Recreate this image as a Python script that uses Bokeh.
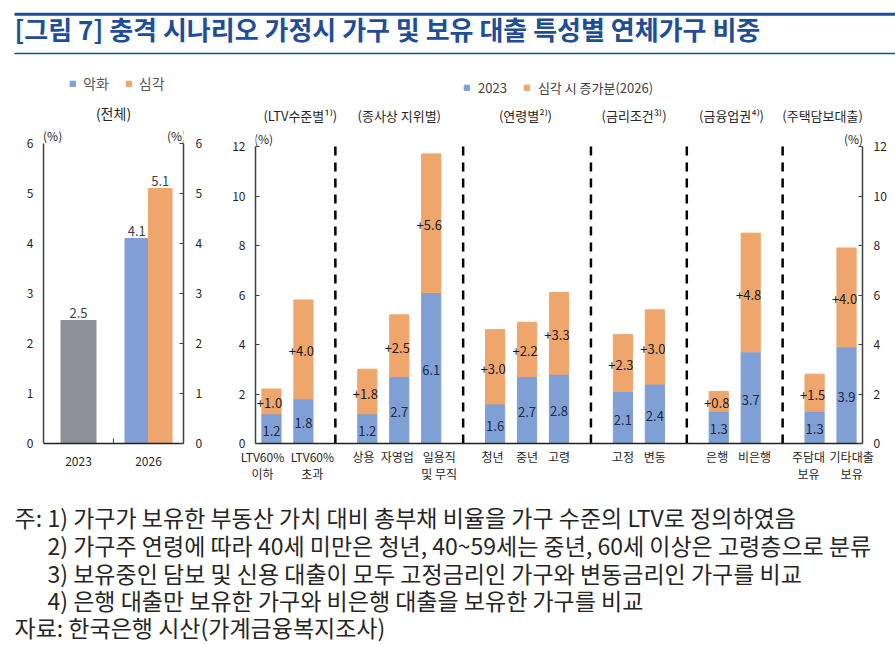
from bokeh.plotting import figure
from bokeh.layouts import column, row
from bokeh.models import (ColumnDataSource, FixedTicker, Legend, LegendItem,
                          Range1d, LinearAxis, BoxAnnotation)
from bokeh.core.properties import value
from bokeh.embed import file_html
from bokeh.resources import INLINE

FONT = "Noto Sans CJK KR"
BLUE = "#809fd4"
ORANGE = "#eea66c"
GRAY = "#8f8f99"
TITLE_BLUE = "#1f4e96"
AXIS = "#404040"
TEXT = "#262626"

# ---------------- data ----------------
title_text = "[그림 7] 충격 시나리오 가정시 가구 및 보유 대출 특성별 연체가구 비중"

overall_title = "(전체)"
overall_years = ["2023", "2026"]
overall_2023 = [2.46]
overall_2026_worse = [4.1]
overall_2026_severe = [5.1]
overall_legend = ["악화", "심각"]
overall_ticks = [0, 1, 2, 3, 4, 5, 6]

group_titles = ["(LTV수준별¹⁾)", "(종사상 지위별)", "(연령별²⁾)",
                "(금리조건³⁾)", "(금융업권⁴⁾)", "(주택담보대출)"]
group_sizes = [2, 3, 3, 2, 2, 2]
categories = ["LTV60%\n이하", "LTV60%\n초과",
              "상용", "자영업", "일용직\n및 무직",
              "청년", "중년", "고령",
              "고정", "변동",
              "은행", "비은행",
              "주담대\n보유", "기타대출\n보유"]
base_2023 = [1.2, 1.8, 1.2, 2.7, 6.1, 1.6, 2.7, 2.8, 2.1, 2.4, 1.3, 3.7, 1.3, 3.9]
inc_2026 = [1.0, 4.0, 1.8, 2.5, 5.6, 3.0, 2.2, 3.3, 2.3, 3.0, 0.8, 4.8, 1.5, 4.0]
detail_legend = ["2023", "심각 시 증가분(2026)"]
detail_ticks = [0, 2, 4, 6, 8, 10, 12]

notes_prefix = "주:"
notes = ["1) 가구가 보유한 부동산 가치 대비 총부채 비율을 가구 수준의 LTV로 정의하였음",
         "2) 가구주 연령에 따라 40세 미만은 청년, 40~59세는 중년, 60세 이상은 고령층으로 분류",
         "3) 보유중인 담보 및 신용 대출이 모두 고정금리인 가구와 변동금리인 가구를 비교",
         "4) 은행 대출만 보유한 가구와 비은행 대출을 보유한 가구를 비교"]
source_note = "자료: 한국은행 시산(가계금융복지조사)"

# ---------------- layout constants ----------------
W = 895
TH = 60
LH = 425
NH = 158
label_shift = [-0.28, 0.28, -0.12, -0.06, 0.25, -0.08, 0, 0, 0, 0, -0.05, 0.12, -0.19, 0.16]
title_shift = [0.4, 0.0, -0.05, -0.15, -0.1, -0.25]


def bare(fig):
    fig.grid.visible = False
    return fig


def style_axis(ax, size="12px"):
    ax.major_label_text_font = FONT
    ax.major_label_text_font_size = size
    ax.major_label_text_color = TEXT
    ax.axis_line_color = AXIS
    ax.axis_line_width = 1.5
    ax.major_tick_line_color = AXIS
    ax.minor_tick_line_color = AXIS
    ax.major_tick_out = 0
    ax.minor_tick_out = 0
    ax.minor_tick_in = 0


# ---------------- title (y measured upward from the bottom of this strip) ----------------
tf = figure(width=W, height=TH, x_range=Range1d(0, W), y_range=Range1d(0, TH),
            x_axis_location=None, y_axis_location=None, toolbar_location=None,
            output_backend="svg", min_border=0, outline_line_color=None)
bare(tf)
tf.add_layout(BoxAnnotation(left=14, right=W, bottom=44.8, top=47.8,
                            fill_color=TITLE_BLUE, fill_alpha=1.0, line_color=None))
tf.add_layout(BoxAnnotation(left=14, right=W, bottom=6.2, top=7.8,
                            fill_color=TITLE_BLUE, fill_alpha=1.0, line_color=None))
tf.text(x=[14], y=[TH - 28], text=[title_text], text_font=value(FONT),
        text_font_size="26px", text_font_style="bold", text_color=TITLE_BLUE,
        text_baseline="middle", text_align="left")

# ---------------- left panel (overall) ----------------
frame_h = LH - 10 - 42
lp = figure(width=215, height=LH, x_range=Range1d(0, 2),
            y_range=Range1d(0, frame_h / 50.0), toolbar_location=None,
            output_backend="svg", min_border_left=43, min_border_right=32,
            min_border_top=10, min_border_bottom=42, outline_line_color=None)
bare(lp)
ly = lp.yaxis[0]
ly.ticker = FixedTicker(ticks=overall_ticks)
ly.bounds = (0, 6)
style_axis(ly)
ly.major_tick_in = 0
ly.major_label_standoff = 10
lr = LinearAxis(ticker=FixedTicker(ticks=overall_ticks), bounds=(0, 6))
style_axis(lr)
lr.major_tick_in = 4
lr.major_label_standoff = 12
lp.add_layout(lr, "right")
lx = lp.xaxis[0]
lx.ticker = FixedTicker(ticks=[i + 0.5 for i in range(len(overall_years))],
                        minor_ticks=[1.0])
lx.major_label_overrides = {i + 0.5: y for i, y in enumerate(overall_years)}
style_axis(lx)
lx.major_tick_in = 0
lx.minor_tick_in = 5
lx.major_label_standoff = 13
lx.axis_line_color = "#222222"

x23 = overall_years.index("2023") + 0.5
x26 = overall_years.index("2026") + 0.5
lp.vbar(x=[x23], top=overall_2023, width=0.5, color=GRAY)
r_worse = lp.vbar(x=[x26 - 0.168], top=overall_2026_worse, width=0.336, color=BLUE)
r_sev = lp.vbar(x=[x26 + 0.168], top=overall_2026_severe, width=0.336, color=ORANGE)
lab_x = [x23, x26 - 0.168, x26 + 0.168]
lab_v = overall_2023 + overall_2026_worse + overall_2026_severe
lp.text(x=lab_x, y=lab_v, text=[f"{v:.1f}" for v in lab_v],
        text_font=value(FONT), text_font_size="13px", text_color="#404040",
        text_align="center", text_baseline="bottom", y_offset=-3)
lp.text(x=[1.0], y=[6.62], text=[overall_title], text_font=value(FONT),
        text_font_size="14px", text_color=TEXT, text_align="center",
        text_baseline="middle")
lp.text(x=[0.13, 1.9], y=[6.16, 6.16], text=["(%)", "(%)"], text_font=value(FONT),
        text_font_size="12px", text_color=TEXT, text_align="center",
        text_baseline="middle")
lleg = Legend(items=[LegendItem(label=overall_legend[0], renderers=[r_worse]),
                     LegendItem(label=overall_legend[1], renderers=[r_sev])],
              orientation="horizontal", location=(26, 350),
              glyph_width=7, glyph_height=7, label_height=14, label_width=10,
              label_standoff=7, spacing=16, padding=0, margin=0,
              border_line_color=None, background_fill_alpha=0,
              label_text_font=FONT, label_text_font_size="14px",
              label_text_color="#595959")
lp.add_layout(lleg)

# ---------------- right panel (by characteristic) ----------------
xs, divs, centers = [], [], []
pos = 0
for gi, n in enumerate(group_sizes):
    grp = []
    for _ in range(n):
        xs.append(pos)
        grp.append(pos)
        pos += 1
    centers.append(sum(grp) / len(grp))
    if gi < len(group_sizes) - 1:
        divs.append(pos)
        pos += 1

rp = figure(width=W - 215, height=LH, x_range=Range1d(-0.5, xs[-1] + 0.5),
            y_range=Range1d(0, frame_h / 24.75), toolbar_location=None,
            output_backend="svg", min_border_left=40, min_border_right=33,
            min_border_top=10, min_border_bottom=42, outline_line_color=None)
bare(rp)
ry = rp.yaxis[0]
ry.ticker = FixedTicker(ticks=detail_ticks)
ry.bounds = (0, 12)
style_axis(ry)
ry.major_tick_in = 4
ry.major_label_standoff = 10
rr = LinearAxis(ticker=FixedTicker(ticks=detail_ticks), bounds=(0, 12))
style_axis(rr)
rr.major_tick_in = 4
rr.major_label_standoff = 11
rp.add_layout(rr, "right")

label_x = [x + s for x, s in zip(xs, label_shift)]
first_lines = [c.split("\n")[0] for c in categories]
second = [(lx_, c.split("\n")[1]) for lx_, c in zip(label_x, categories) if "\n" in c]
rx = rp.xaxis[0]
rx.ticker = FixedTicker(ticks=label_x)
rx.major_label_overrides = {x: c for x, c in zip(label_x, first_lines)}
style_axis(rx)
rx.major_tick_in = 0
rx.major_label_standoff = 4
rx.axis_line_color = "#222222"
rx2 = LinearAxis(ticker=FixedTicker(ticks=[s[0] for s in second]))
rx2.major_label_overrides = {s[0]: s[1] for s in second}
style_axis(rx2)
rx2.axis_line_color = None
rx2.major_tick_in = 0
rx2.major_label_standoff = -3
rp.add_layout(rx2, "below")

src = ColumnDataSource(dict(
    x=xs, base=base_2023, inc=inc_2026,
    base_mid=[b / 2 for b in base_2023],
    inc_mid=[b + i / 2 for b, i in zip(base_2023, inc_2026)],
    base_lbl=[f"{b:.1f}" for b in base_2023],
    inc_lbl=[f"+{i:.1f}" for i in inc_2026],
))
stack = rp.vbar_stack(["base", "inc"], x="x", width=0.6, color=[BLUE, ORANGE],
                      source=src)
rp.segment(x0=divs, y0=[12] * len(divs), x1=divs, y1=[0] * len(divs),
           line_color="black", line_width=2.5, line_dash="9 7")
rp.text(x="x", y="base_mid", text="base_lbl", source=src, text_font=value(FONT),
        text_font_size="13px", text_color="#1f2a44", text_align="center",
        text_baseline="middle", y_offset=2)
rp.text(x="x", y="inc_mid", text="inc_lbl", source=src, text_font=value(FONT),
        text_font_size="13px", text_color="#1a1a1a", text_align="center",
        text_baseline="middle", y_offset=2, x_offset=-2)
rp.text(x=[c + s for c, s in zip(centers, title_shift)], y=[13.25] * len(centers),
        text=group_titles, text_font=value(FONT), text_font_size="13px",
        text_color=TEXT, text_align="center", text_baseline="middle")
rp.text(x=[-0.25, xs[-1] + 0.22], y=[12.32, 12.32], text=["(%)", "(%)"],
        text_font=value(FONT), text_font_size="12px", text_color=TEXT,
        text_align="center", text_baseline="middle")
rleg = Legend(items=[LegendItem(label=detail_legend[0], renderers=[stack[0]]),
                     LegendItem(label=detail_legend[1], renderers=[stack[1]])],
              orientation="horizontal", location=(208, 346),
              glyph_width=7, glyph_height=7, label_height=14, label_width=10,
              label_standoff=8, spacing=16, padding=0, margin=0,
              border_line_color=None, background_fill_alpha=0,
              label_text_font=FONT, label_text_font_size="13px",
              label_text_color="#404040")
rp.add_layout(rleg)

# ---------------- notes ----------------
nf = figure(width=W, height=NH, x_range=Range1d(0, W), y_range=Range1d(NH, 0),
            x_axis_location=None, y_axis_location=None, toolbar_location=None,
            output_backend="svg", min_border=0, outline_line_color=None)
bare(nf)
line_y = [31, 59, 87, 114, 141]
nf.text(x=[14], y=[line_y[0]], text=[notes_prefix], text_font=value(FONT),
        text_font_size="23px", text_color=TEXT, text_baseline="middle")
nf.text(x=[47] * len(notes), y=line_y[:4], text=notes, text_font=value(FONT),
        text_font_size="23px", text_color=TEXT, text_baseline="middle")
nf.text(x=[14], y=[line_y[4]], text=[source_note], text_font=value(FONT),
        text_font_size="23px", text_color=TEXT, text_baseline="middle")

layout = column(tf, row(lp, rp), nf)
open("out.html", "w").write(file_html(layout, INLINE))
